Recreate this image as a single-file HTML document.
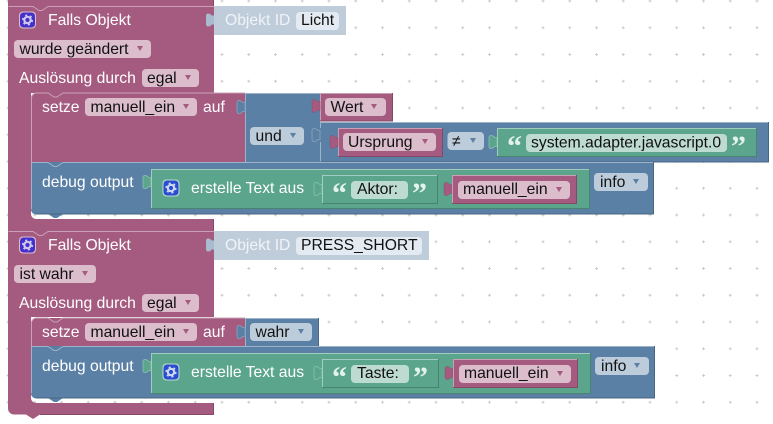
<!DOCTYPE html>
<html><head><meta charset="utf-8"><style>
html,body{margin:0;padding:0;background:#fff}
svg{display:block}
text{font-family:"Liberation Sans",Arial,sans-serif;font-size:15.7px;white-space:pre}
.w{fill:#fff}.k{fill:#111}
.p{fill:#a55b80}.b{fill:#5b80a5}.g{fill:#5ba58c}.l{fill:#bfcddb}
.fp{fill:#dbbdcc}.fb{fill:#bdccdb}.fg{fill:#bddbd1}.fl{fill:#e4eaf1}
.pl{stroke:#c9a0b6;fill:none}.pd{stroke:#844966;fill:none}
.bl{stroke:#9db3c9;fill:none}.bd{stroke:#496684;fill:none}
.gl{stroke:#a0cdbd;fill:none}.gd{stroke:#498470;fill:none}
.q{font-family:"Liberation Serif",serif;font-size:30px;font-weight:bold;fill:#e4f2ed}
.tb{fill:#5b80a5;stroke:#8aa4bd;stroke-width:.8}
.tg{fill:#5ba58c;stroke:#8cc2af;stroke-width:.8}
.tp{fill:#a55b80;stroke:#844966;stroke-width:.4}
.tl{fill:#a9bccf}
</style></head><body>
<svg width="773" height="424" viewBox="0 0 773 424" xmlns="http://www.w3.org/2000/svg">
<defs>
<pattern id="grid" x="8" y="1" width="26.75" height="26.75" patternUnits="userSpaceOnUse">
<path d="M0 -1.5V1.5M-1.5 0H1.5M26.75 -1.5V1.5M25.25 0H28.25M0 25.25V28.25M-1.5 26.75H1.5M26.75 25.25V28.25M25.25 26.75H28.25" stroke="#ccc" stroke-width="1" fill="none"/>
</pattern>
<path id="tab" d="M0 2.500H-2C-3 2.500 -3 .5 -6 .5Q-8 .5 -8 3V11Q-8 13.500 -6 13.500C-3 13.500 -3 11.500 -2 11.500H0z"/>
<g id="gear">
<rect x="0.5" y="0.5" width="17" height="17" rx="4" fill="#dbbdcc"/>
<rect x="1.5" y="1.5" width="15" height="15" rx="3.5" fill="#4530cc"/>
<circle cx="9" cy="9" r="3.2" fill="none" stroke="#cfc9ee" stroke-width="2.2"/>
<circle cx="9" cy="9" r="4.8" fill="none" stroke="#cfc9ee" stroke-width="1.6" stroke-dasharray="2 3.03"/>
</g>
<g id="gear2">
<rect x="0.5" y="0.5" width="17" height="17" rx="4" fill="#bddbd1"/>
<rect x="1.5" y="1.5" width="15" height="15" rx="3.5" fill="#2b4dd0"/>
<circle cx="9" cy="9" r="3.2" fill="none" stroke="#cfd9f0" stroke-width="2.2"/>
<circle cx="9" cy="9" r="4.8" fill="none" stroke="#cfd9f0" stroke-width="1.6" stroke-dasharray="2 3.03"/>
</g>
</defs>
<rect width="773" height="424" fill="#fff"/>
<rect width="773" height="424" fill="url(#grid)"/>

<!-- Block 1 C shape -->
<rect class="p" x="8" y="0" width="206" height="6"/>
<path class="p" d="M8 6H214V93H31V214a5 5 0 0 0 5 5H214V231H8z"/>
<path class="pl" d="M8.500 6.500H33l6 4h3l6-4H214"/>
<path class="pd" d="M213.500 0V6M213.500 219V231"/>
<use href="#tab" class="tl" x="214" y="13"/>
<rect class="l" x="214" y="6" width="132" height="29"/>
<use href="#gear" x="18.500" y="11"/>
<text class="w" x="48" y="25">Falls Objekt</text>
<text x="225" y="25" style="fill:#f0f3f7">Objekt ID</text>
<rect class="fl" x="296" y="12" width="43" height="18" rx="4"/>
<text class="k" x="301" y="25">Licht</text>
<rect class="fp" x="14" y="40" width="137" height="18" rx="4"/>
<text class="k" x="19.500" y="54">wurde geändert</text>
<path d="M137 46h6l-3 5z" fill="#a55b80"/>
<text class="w" x="19" y="83">Auslösung durch</text>
<rect class="fp" x="142" y="69" width="57" height="18" rx="4"/>
<text class="k" x="147" y="83">egal</text>
<path d="M185 75h6l-3 5z" fill="#a55b80"/>

<!-- setze 1 -->
<path class="p" d="M31 98a5 5 0 0 1 5-5H245V162H31z"/>
<path class="pl" d="M31.500 162V98a5 5 0 0 1 5-5H48l6 4h3l6-4H245"/>
<text class="w" x="42" y="112">setze</text>
<rect class="fp" x="85" y="98" width="112" height="18" rx="4"/>
<text class="k" x="90.500" y="112">manuell_ein</text>
<path d="M183 104h6l-3 5z" fill="#a55b80"/>
<text class="w" x="203" y="112">auf</text>

<!-- und -->
<rect class="b" x="245" y="93" width="75" height="69"/>
<path class="bl" d="M245.500 162V93.500H320"/>
<use href="#tab" class="tb" x="245" y="100"/>
<rect class="b" x="245.800" y="102" width="2" height="12"/>
<rect class="fb" x="250" y="127" width="54" height="18" rx="4"/>
<text class="k" x="255.500" y="141">und</text>
<path d="M290 133h6l-3 5z" fill="#5b80a5"/>

<!-- Wert -->
<rect class="p" x="320" y="93" width="73" height="28"/>
<path class="pl" d="M320.500 121V93.500H393"/>
<path class="pd" d="M392.500 93V121H320"/>
<use href="#tab" class="tp" x="320" y="99"/>
<rect class="fp" x="325" y="98" width="61" height="18" rx="4"/>
<text class="k" x="330.500" y="112">Wert</text>
<path d="M371 104h6l-3 5z" fill="#a55b80"/>

<!-- compare -->
<rect class="b" x="320" y="122" width="449" height="40"/>
<use href="#tab" class="tb" x="320" y="128"/>
<rect class="b" x="320.500" y="130" width="2" height="11"/>
<path class="bl" d="M320.500 128V122.500H769M320.500 142V162"/>
<path class="bd" d="M768.500 122V162H320"/>
<!-- Ursprung -->
<rect class="p" x="338" y="128" width="105" height="29"/>
<path class="pl" d="M338.500 157V128.500H443"/>
<path class="pd" d="M442.500 128V156.500H338"/>
<use href="#tab" class="tp" x="338" y="135"/>
<rect class="fp" x="343" y="133" width="93" height="18" rx="4"/>
<text class="k" x="348" y="147">Ursprung</text>
<path d="M422 139h6l-3 5z" fill="#a55b80"/>
<rect class="fb" x="447.500" y="132" width="36.500" height="18" rx="4"/>
<text class="k" x="452" y="146">≠</text>
<path d="M470 138h6l-3 5z" fill="#5b80a5"/>
<!-- string -->
<use href="#tab" class="tg" x="497" y="135"/>
<rect class="g" x="497" y="128" width="260" height="29"/>
<path class="gl" d="M497.500 157V128.500H757"/>
<path class="gd" d="M756.500 128V156.500H497"/>
<text class="q" x="507" y="156">“</text>
<rect class="fg" x="526" y="134" width="201" height="18" rx="4"/>
<text class="k" x="531" y="147.500">system.adapter.javascript.0</text>
<text class="q" x="731" y="156">”</text>

<!-- debug 1 -->
<path class="b" d="M31 162H654V214.500H36a5 5 0 0 1-5-5z"/>
<path class="b" d="M48 214h15l-6 4h-3z"/>
<path class="bl" d="M31.500 209V162.500H48l6 4h3l6-4H654"/>
<path class="bd" d="M653.500 162V214H36"/>
<text class="w" x="42" y="187">debug output</text>
<use href="#tab" class="tg" x="151" y="175"/>
<rect class="g" x="151" y="169" width="439" height="40"/>
<path class="gl" d="M151.500 209V169.500H590"/>
<path class="gd" d="M589.500 169V208.500H151"/>
<use href="#gear2" x="162" y="179"/>
<text class="w" x="191" y="193">erstelle Text aus</text>
<use href="#tab" class="tg" x="322" y="182"/>
<rect class="g" x="322" y="175" width="116" height="29"/>
<path class="gl" d="M322.500 204V175.500H438"/>
<path class="gd" d="M437.500 175V203.500H322"/>
<text class="q" x="332" y="203">“</text>
<rect class="fg" x="351" y="181" width="57" height="18" rx="4"/>
<text class="k" x="357" y="194">Aktor:</text>
<text class="q" x="412" y="203">”</text>
<use href="#tab" class="tp" x="452" y="182"/>
<rect class="p" x="452" y="175" width="125" height="29"/>
<path class="pl" d="M452.500 204V175.500H577"/>
<path class="pd" d="M576.500 175V203.500H452"/>
<rect class="fp" x="458" y="181" width="112" height="18" rx="4"/>
<text class="k" x="463" y="194">manuell_ein</text>
<path d="M556 187h6l-3 5z" fill="#a55b80"/>
<rect class="fb" x="594" y="173" width="54" height="18" rx="4"/>
<text class="k" x="600" y="187">info</text>
<path d="M633 179h6l-3 5z" fill="#5b80a5"/>

<!-- Block 2 C shape -->
<path class="p" d="M8 231H214V317H31V398a5 5 0 0 0 5 5H214V414.500H40l-7 4.500-7-4.500H14a6 6 0 0 1-6-6z"/>
<path class="pl" d="M8.500 231.500H33l6 4h3l6-4H214"/>
<path class="pd" d="M213.500 403V414M40 414.500H214"/>
<use href="#tab" class="tl" x="214" y="238"/>
<rect class="l" x="214" y="231" width="215" height="29"/>
<use href="#gear" x="18.500" y="236"/>
<text class="w" x="48" y="250">Falls Objekt</text>
<text x="225" y="250" style="fill:#f0f3f7">Objekt ID</text>
<rect class="fl" x="296" y="237" width="126" height="18" rx="4"/>
<text class="k" x="301" y="250">PRESS_SHORT</text>
<rect class="fp" x="14" y="265" width="82" height="18" rx="4"/>
<text class="k" x="19.500" y="279">ist wahr</text>
<path d="M82 271h6l-3 5z" fill="#a55b80"/>
<text class="w" x="19" y="308">Auslösung durch</text>
<rect class="fp" x="142" y="294" width="57" height="18" rx="4"/>
<text class="k" x="147" y="308">egal</text>
<path d="M185 300h6l-3 5z" fill="#a55b80"/>

<!-- setze 2 -->
<path class="p" d="M31 323a5 5 0 0 1 5-5H245V346H31z"/>
<path class="pl" d="M31.500 346V323a5 5 0 0 1 5-5H48l6 4h3l6-4H245"/>
<text class="w" x="42" y="337">setze</text>
<rect class="fp" x="85" y="323" width="112" height="18" rx="4"/>
<text class="k" x="90.500" y="337">manuell_ein</text>
<path d="M183 329h6l-3 5z" fill="#a55b80"/>
<text class="w" x="203" y="337">auf</text>
<rect class="b" x="245" y="318" width="74" height="28"/>
<path class="bl" d="M245.500 346V318.500H319"/>
<path class="bd" d="M318.500 318V346"/>
<use href="#tab" class="tb" x="245" y="325"/>
<rect class="b" x="245.800" y="327" width="2" height="12"/>
<rect class="fb" x="250" y="323" width="62" height="18" rx="4"/>
<text class="k" x="255.500" y="337">wahr</text>
<path d="M298 329h6l-3 5z" fill="#5b80a5"/>

<!-- debug 2 -->
<path class="b" d="M31 346H655V398.500H36a5 5 0 0 1-5-5z"/>
<path class="b" d="M48 398h15l-6 4h-3z"/>
<path class="bl" d="M31.500 393V346.500H48l6 4h3l6-4H655"/>
<path class="bd" d="M654.500 346V398H36"/>
<text class="w" x="42" y="371">debug output</text>
<use href="#tab" class="tg" x="151" y="359"/>
<rect class="g" x="151" y="353" width="440" height="41"/>
<path class="gl" d="M151.500 394V353.500H591"/>
<path class="gd" d="M590.500 353V393.500H151"/>
<use href="#gear2" x="162" y="363"/>
<text class="w" x="191" y="377">erstelle Text aus</text>
<use href="#tab" class="tg" x="322" y="366"/>
<rect class="g" x="322" y="359" width="117" height="29"/>
<path class="gl" d="M322.500 388V359.500H439"/>
<path class="gd" d="M438.500 359V387.500H322"/>
<text class="q" x="332" y="387">“</text>
<rect class="fg" x="351" y="365" width="58" height="18" rx="4"/>
<text class="k" x="357" y="378">Taste:</text>
<text class="q" x="413" y="387">”</text>
<use href="#tab" class="tp" x="453" y="366"/>
<rect class="p" x="453" y="359" width="125" height="29"/>
<path class="pl" d="M453.500 388V359.500H578"/>
<path class="pd" d="M577.500 359V387.500H453"/>
<rect class="fp" x="459" y="365" width="112" height="18" rx="4"/>
<text class="k" x="464" y="378">manuell_ein</text>
<path d="M557 371h6l-3 5z" fill="#a55b80"/>
<rect class="fb" x="595" y="357" width="54" height="18" rx="4"/>
<text class="k" x="601" y="371">info</text>
<path d="M634 363h6l-3 5z" fill="#5b80a5"/>
</svg>
</body></html>
